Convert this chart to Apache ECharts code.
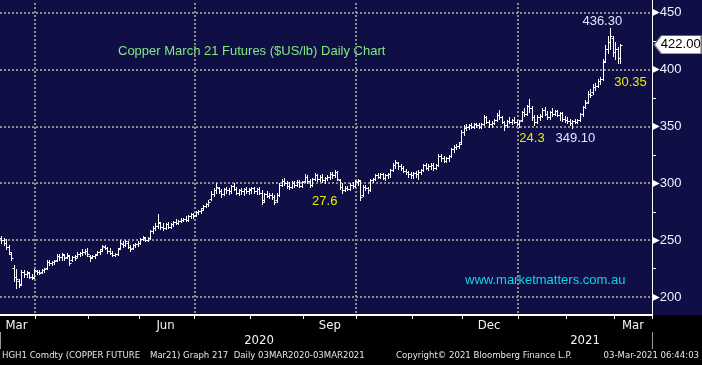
<!DOCTYPE html>
<html><head><meta charset="utf-8">
<script src="https://cdn.jsdelivr.net/npm/echarts@6/dist/echarts.min.js"></script>
<style>
html,body{margin:0;padding:0;background:#000;}
#c{width:702px;height:365px;background:linear-gradient(to bottom,#0f0f46 0,#0f0f46 315px,#000 315px,#000 365px);}
</style></head><body><div id="c"></div>
<script>
// ---------- data ----------
const firstDate = '2020-03-12';
const holidays = ['2020-04-10','2020-05-25','2020-07-03','2020-09-07','2020-11-26','2020-12-25','2021-01-01','2021-01-18','2021-02-15'];
const categoryCount = 258;
const monthNames = ['Jan','Feb','Mar','Apr','May','Jun','Jul','Aug','Sep','Oct','Nov','Dec'];
const labelledMonths = ['Mar','Jun','Sep','Dec'];
const gridMonths = ['Jan','Apr','Jul','Oct'];
const yLabelValues = [200,250,300,350,400,450];
const yMinorValues = [225,275,325,375,425];

const open = [
252,250,248,244,238,226,218,214,212,222, 220,221,218,218,223,222,222,224,226,231,
230,231,233,236,235,237,235,236,233,235, 236,238,239,240,241,236,235,236,238,240,
242,244,243,241,239,237,238,243,247,246, 248,244,243,246,247,248,251,252,250,252,
258,261,263,265,262,261,264,262,264,266, 265,267,268,269,268,271,273,272,275,276,
278,280,282,286,291,294,296,293,291,295, 294,293,298,295,292,294,293,295,293,294,
296,293,295,292,285,291,289,290,288,285, 290,299,302,300,298,297,300,299,301,298,
302,306,302,299,304,307,304,306,303,305, 306,308,307,310,303,297,294,296,295,299,
298,301,302,290,297,296,294,303,304,307, 306,308,305,307,308,312,316,318,315,314,
311,310,308,307,309,308,310,312,316,314, 315,316,314,316,324,322,320,322,324,330,
332,333,336,345,349,350,351,350,352,351, 350,352,358,354,352,353,356,360,358,354,
351,355,354,356,354,352,356,363,361,368, 366,358,354,358,359,365,361,358,363,361,
364,360,362,357,356,355,353,355,354,356, 361,367,372,379,380,385,386,390,392,408,
418,424,428,416,418,410];
const high = [
254,252,251,246,240,228,225,216,224,224, 223,222,220,225,224,224,225,226,233,233,
232,233,238,238,239,238,239,237,236,237, 240,240,242,242,243,237,237,238,241,242,
246,246,244,243,241,239,243,250,249,250, 249,246,247,248,249,252,254,253,253,259,
263,265,273,266,265,265,266,265,267,269, 268,270,270,271,272,274,274,276,277,278,
281,283,285,293,296,300,297,295,296,297, 296,299,300,297,295,296,296,297,296,297,
297,296,297,294,292,293,292,292,290,292, 300,304,305,302,301,302,302,303,303,302,
308,307,304,305,309,308,307,308,306,307, 310,310,312,311,304,300,298,298,300,301,
303,304,303,299,299,297,304,305,308,309, 309,309,308,309,313,318,321,319,317,315,
313,311,310,310,311,312,313,317,318,317, 318,318,317,326,326,324,323,325,331,334,
335,336,347,351,352,352,353,353,353,353, 353,360,359,356,355,357,362,365,359,355,
356,358,357,358,356,356,364,366,369,374, 368,360,360,361,366,367,364,364,366,365,
365,363,363,359,358,357,356,357,357,362, 368,373,381,383,387,388,392,394,409,422,
430,436.3,430,424,420,423];
const low = [
248,246,242,238,233,214,208,209,211,218, 218,217,216,217,220,220,221,222,225,228,
228,229,232,233,233,233,234,228,232,233, 235,236,237,238,236,232,234,234,237,238,
241,242,239,238,236,236,237,242,244,245, 243,241,242,244,245,247,250,249,249,251,
256,259,261,260,259,260,261,261,263,264, 264,266,267,267,267,270,270,271,273,274,
277,279,280,285,289,292,292,288,290,292, 291,292,294,291,290,291,290,292,291,292,
292,291,291,282,284,288,287,286,282,284, 289,298,299,296,295,296,297,298,297,297,
301,300,297,298,303,302,302,301,300,303, 304,305,306,303,295,292,293,294,294,296,
297,299,285,289,294,292,293,301,303,305, 305,304,303,305,306,311,314,313,312,310,
308,306,305,305,306,304,308,311,313,312, 313,312,313,315,320,319,319,320,323,328,
330,331,335,343,347,348,349,349,350,349, 349,351,353,350,350,352,355,357,353,347,
350,353,352,353,351,350,355,359,360,363, 356,351,353,356,358,360,357,357,359,360,
359,356,355,354,353,351,349.1,353,353,355, 359,366,371,376,379,382,385,387,391,407,
415,418,412,409,406,406];
const close = [
250,248,244,240,234,218,216,211,222,220, 222,218,217,224,222,221,224,225,231,230,
231,232,236,235,238,234,237,230,235,234, 238,239,240,241,238,234,236,237,240,241,
245,243,241,239,237,238,242,248,246,249, 244,242,246,247,248,251,253,250,252,258,
261,263,266,262,261,264,262,264,266,265, 267,268,269,268,271,273,271,275,276,277,
280,282,284,291,294,297,293,291,295,294, 293,298,295,292,294,293,295,293,295,296,
293,295,292,284,291,289,290,288,284,290, 299,302,300,298,297,300,299,301,298,301,
306,302,299,304,307,304,306,303,305,306, 308,307,310,304,297,294,296,295,299,298,
302,303,288,297,296,294,303,304,307,306, 308,305,307,308,312,316,319,315,314,311,
310,308,307,309,308,310,312,316,314,315, 316,314,316,324,322,320,322,324,330,332,
333,335,345,349,350,351,350,352,351,350, 352,358,354,352,353,356,360,358,354,351,
355,354,356,354,352,355,363,361,368,366, 358,354,358,359,365,361,358,363,361,364,
360,362,357,356,355,353,355,354,356,361, 367,371,379,378,385,386,390,392,407,418,
424,430,416,418,410,422];

const titleText = 'Copper March 21 Futures ($US/lb) Daily Chart';
const urlText = 'www.marketmatters.com.au';
const footerTexts = ['HGH1 Comdty (COPPER FUTURE', 'Mar21) Graph 217  Daily 03MAR2020-03MAR2021', 'Copyright\u00A9 2021 Bloomberg Finance L.P.', '03-Mar-2021 06:44:03'];
const notes = [
  {text:'27.6', at:128, value:284.3},
  {text:'24.3', at:210, value:339.2},
  {text:'30.35', at:249, value:389}
];

// ---------- categories (trading days) ----------
const dates = [];
(function(){
  const d = new Date(firstDate + 'T00:00:00Z');
  while (dates.length < categoryCount) {
    const s = d.toISOString().slice(0,10);
    const dow = d.getUTCDay();
    if (dow !== 0 && dow !== 6 && holidays.indexOf(s) < 0) dates.push(s);
    d.setUTCDate(d.getUTCDate() + 1);
  }
})();
const monthOf = s => monthNames[parseInt(s.slice(5,7),10)-1];
const monthFirst = {}, monthLast = {}, yearFirst = {}, yearLast = {};
dates.forEach((s,i)=>{
  const m = s.slice(0,7), y = s.slice(0,4);
  if (!(m in monthFirst)) monthFirst[m] = i; monthLast[m] = i;
  if (!(y in yearFirst)) yearFirst[y] = i; yearLast[y] = i;
});
const monthTickIdx = new Set(), gridIdx = [], monthLabelIdx = new Set(), yearLabelIdx = new Set(), yearTickIdx = new Set();
Object.keys(monthFirst).forEach(m=>{
  const f = monthFirst[m], l = monthLast[m];
  const name = monthNames[parseInt(m.slice(5,7),10)-1];
  if (f > 0) monthTickIdx.add(f);
  if (f > 0 && gridMonths.indexOf(name) >= 0) gridIdx.push(f);
  if (labelledMonths.indexOf(name) >= 0) monthLabelIdx.add(Math.floor((f+l)/2));
});
Object.keys(yearFirst).forEach(y=>{
  const f = yearFirst[y], l = yearLast[y];
  if (f > 0) yearTickIdx.add(f);
  yearLabelIdx.add(Math.floor((f+l)/2));
});

const seriesData = close.map((c,i)=>[dates[i], open[i], high[i], low[i], c]);
let maxIdx = 0; high.forEach((v,i)=>{ if (v > high[maxIdx]) maxIdx = i; });
let lowIdx = yearFirst['2021']; for (let i = yearFirst['2021']; i < low.length; i++) if (low[i] < low[lowIdx]) lowIdx = i;
const lastIdx = close.length - 1;

const gridStyle = {stroke:'#8c8c8c', lineWidth:2, lineDash:[2,2]};
const numFont = '"Liberation Sans", Arial, sans-serif';
const narrowFont = '"Liberation Sans Narrow", "DejaVu Sans Condensed", "Arial Narrow", sans-serif';
const yMin = 184.3, yMax = 461.3;

const chart = echarts.init(document.getElementById('c'), null, {renderer:'canvas'});
chart.setOption({
  animation:false,
  backgroundColor:'transparent',
  grid:{left:0, right:50, top:-3, bottom:50, containLabel:false},
  xAxis:[{
    type:'category', data:dates, boundaryGap:true,
    axisLine:{show:true, lineStyle:{color:'#ffffff', width:2}},
    axisTick:{show:true, interval:(i)=>monthTickIdx.has(i), length:4, lineStyle:{color:'#ffffff'}},
    axisLabel:{show:true, interval:(i)=>monthLabelIdx.has(i), formatter:(v)=>monthOf(v), color:'#f4f4f4', fontSize:13, fontFamily:narrowFont, margin:4},
    splitLine:{show:false}
  },{
    type:'category', data:dates, boundaryGap:true, position:'bottom', offset:17,
    axisLine:{show:false},
    axisTick:{show:true, interval:(i)=>yearTickIdx.has(i), length:17, lineStyle:{color:'#9a9a9a'}},
    axisLabel:{show:true, interval:(i)=>yearLabelIdx.has(i), formatter:(v)=>v.slice(0,4), color:'#f4f4f4', fontSize:13, fontFamily:narrowFont, margin:2},
    splitLine:{show:false}
  }],
  yAxis:[{
    type:'value', position:'right', min:yMin, max:yMax,
    axisLine:{show:true, lineStyle:{color:'#ffffff', width:1}},
    axisTick:{show:false, customValues:yLabelValues},
    axisLabel:{show:true, customValues:yLabelValues, margin:0,
      formatter:(v)=>'{t|\u25B6}{v|'+v+'}',
      rich:{t:{fontSize:10, color:'#ffffff', fontFamily:'DejaVu Sans'}, v:{fontSize:13, color:'#eef2ff', fontFamily:numFont}}},
    splitLine:{show:false}
  },{
    type:'value', position:'right', min:yMin, max:yMax,
    axisLine:{show:false},
    axisTick:{show:true, customValues:yMinorValues, length:4, lineStyle:{color:'#ffffff'}},
    axisLabel:{show:false},
    splitLine:{show:false}
  }],
  series:[{
    // dotted grid lines (horizontal at labelled values, vertical at quarter starts)
    type:'custom', silent:true, clip:true, z:1,
    data: yLabelValues.map(v=>[dates[0], v, 0]).concat(gridIdx.map(i=>[dates[i], yMin, 1])),
    encode:{x:0, y:1},
    renderItem:function(params, api){
      const cs = params.coordSys;
      const st = Object.assign({}, gridStyle);
      if (api.value(2) === 0) {
        const y = Math.round(api.coord([0, api.value(1)])[1]);
        return {type:'line', shape:{x1:cs.x, y1:y, x2:cs.x+cs.width, y2:y}, style:st};
      }
      const x = Math.round(api.coord([api.value(0), yMin])[0] - api.size([1,0])[0]/2);
      return {type:'line', shape:{x1:x, y1:cs.y+3, x2:x, y2:cs.y+cs.height}, style:st};
    }
  },{
    type:'custom', data:seriesData, clip:true, yAxisIndex:0, z:2,
    encode:{x:0, y:[1,2,3,4]},
    renderItem:function(params, api){
      const xi = api.value(0);
      const pO = api.coord([xi, api.value(1)]);
      const pH = api.coord([xi, api.value(2)]);
      const pL = api.coord([xi, api.value(3)]);
      const pC = api.coord([xi, api.value(4)]);
      const tick = Math.max(2, Math.round(api.size([1,0])[0]*0.75));
      const r = v => Math.round(v) + 0.5;
      const x = r(pH[0]);
      const st = {stroke:'#ffffff', lineWidth:1};
      return {type:'group', children:[
        {type:'line', shape:{x1:x, y1:Math.round(pH[1]), x2:x, y2:Math.round(pL[1])+1}, style:st},
        {type:'line', shape:{x1:x-tick, y1:r(pO[1]), x2:x, y2:r(pO[1])}, style:st},
        {type:'line', shape:{x1:x, y1:r(pC[1]), x2:x+tick, y2:r(pC[1])}, style:st}
      ]};
    },
    markPoint:{
      silent:true, animation:false, symbol:'circle', symbolSize:0,
      data:[
        {coord:[dates[maxIdx], high[maxIdx]], label:{show:true, position:'top', distance:1, offset:[-8,0], formatter:high[maxIdx].toFixed(2), color:'#dde6ff', fontSize:13, fontFamily:numFont}},
        {coord:[dates[lowIdx], low[lowIdx]], label:{show:true, position:'bottom', distance:4, offset:[3,0], formatter:low[lowIdx].toFixed(2), color:'#dde6ff', fontSize:13, fontFamily:numFont}}
      ].concat(notes.map(n=>({coord:[dates[n.at], n.value], label:{show:true, position:'inside', formatter:n.text, color:'#e8e800', fontSize:13, fontFamily:numFont}})))
      .concat([{coord:[dates[categoryCount-1], close[lastIdx]], symbol:'path://M0,9 L7,0 L47,0 L47,18 L7,18 Z', symbolSize:[47,18], symbolKeepAspect:false, symbolOffset:[27,0],
        itemStyle:{color:'#ffffff', borderColor:'#7a7a7a', borderWidth:1},
        label:{show:true, position:'inside', offset:[3,0], formatter:close[lastIdx].toFixed(2), color:'#000000', fontSize:13, fontFamily:numFont}}])
    }
  }],
  graphic:[
    {type:'text', left:118, top:45, silent:true, style:{text:titleText, fill:'#80ea80', fontSize:13, fontFamily:numFont}},
    {type:'text', left:465, top:274, silent:true, style:{text:urlText, fill:'#10d4e4', fontSize:13, fontFamily:numFont}},
    {type:'text', left:2, top:351, silent:true, style:{text:footerTexts[0], fill:'#e6e6e6', fontSize:9.5, fontFamily:narrowFont}},
    {type:'text', left:150, top:351, silent:true, style:{text:footerTexts[1], fill:'#e6e6e6', fontSize:9.5, fontFamily:narrowFont}},
    {type:'text', left:396, top:351, silent:true, style:{text:footerTexts[2], fill:'#e6e6e6', fontSize:9.5, fontFamily:narrowFont}},
    {type:'text', right:3, top:351, silent:true, style:{text:footerTexts[3], fill:'#e6e6e6', fontSize:9.5, fontFamily:narrowFont}}
  ]
});
</script></body></html>
